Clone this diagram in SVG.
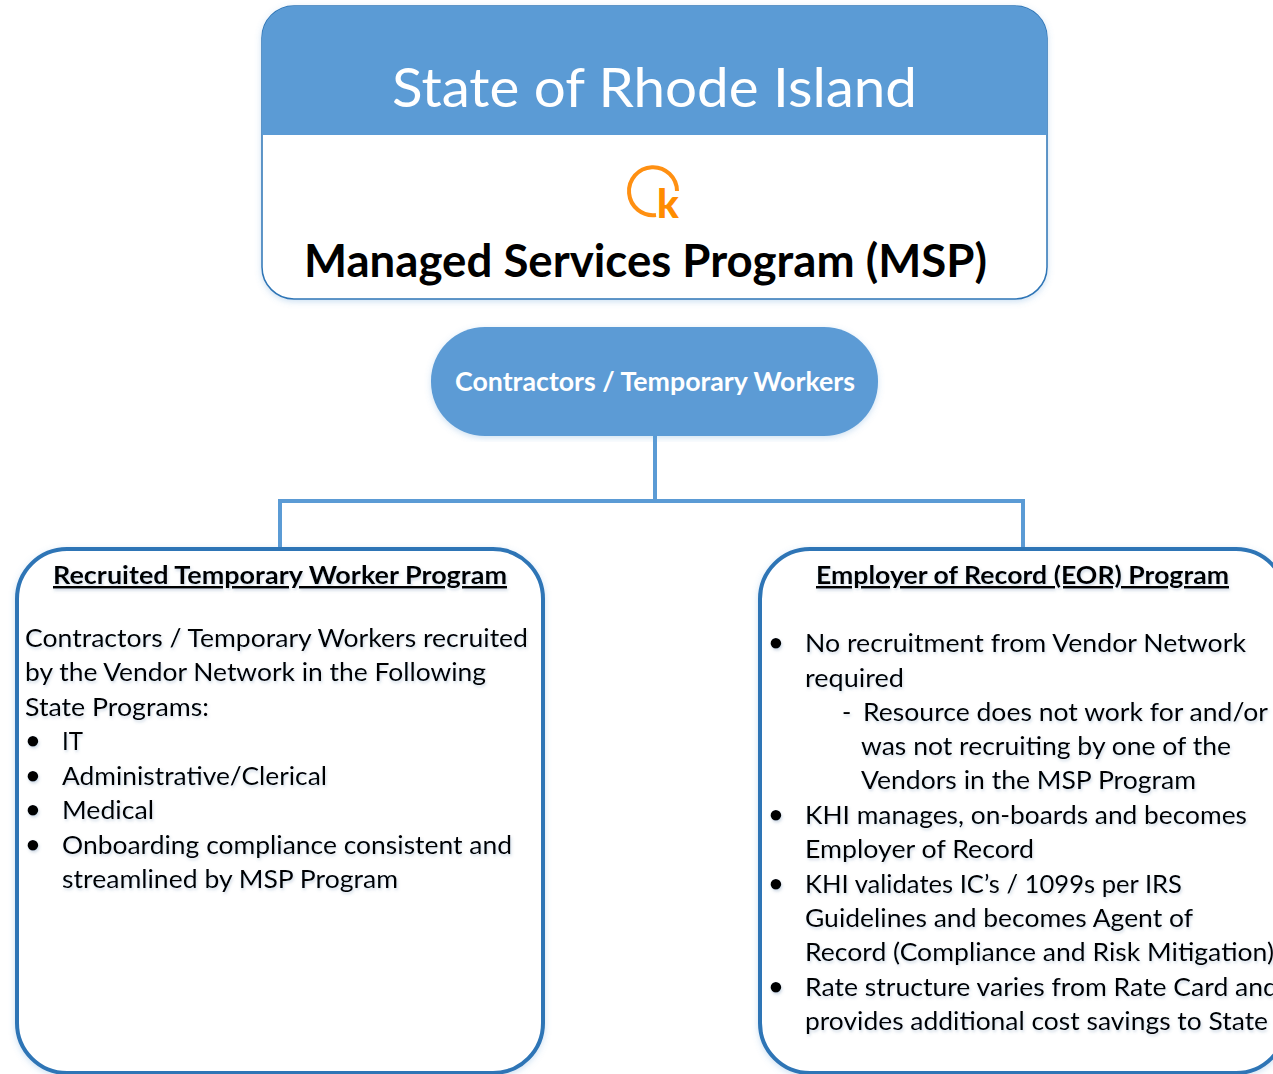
<svg xmlns="http://www.w3.org/2000/svg" width="1273" height="1074" viewBox="0 0 1273 1074">
<style>
text{font-family:Lato,"Open Sans","Liberation Sans",sans-serif;fill:#000}
.b{font-size:25px}
.t{font-size:25px;font-weight:700;text-decoration:underline}
.w{fill:#fff}
.p{fill:#fff;stroke:#2e75b6;stroke-width:4;filter:url(#bs)}
.c{fill:none;stroke:#5b9bd5;stroke-width:4}
.d{font-family:"Liberation Sans",sans-serif;font-size:28px;stroke:#000;stroke-width:3}
.s{filter:url(#ts)}
</style>
<defs>
<filter id="ts" x="-5%" y="-5%" width="110%" height="110%"><feDropShadow dx="1" dy="2" stdDeviation="1.5" flood-color="#5b7fa5" flood-opacity="0.3"/></filter>
<filter id="bs" x="-5%" y="-5%" width="110%" height="110%"><feDropShadow dx="0" dy="2" stdDeviation="3" flood-color="#5b9bd5" flood-opacity="0.3"/></filter>
</defs>
<rect width="1273" height="1074" fill="#fff"/>
<g id="connectors">
<path class="c" d="M655 436V501M280 549V501H1023V549"/>
</g>
<g id="msp">
<rect x="262" y="6" width="785" height="293" rx="32" fill="#fff" stroke="#2e75b6" stroke-width="1.5" filter="url(#bs)"/>
<path d="M262 135V38A32 32 0 0 1 294 6H1015A32 32 0 0 1 1047 38V135Z" fill="#5b9bd5"/>
<text x="392" y="107" class="w" font-size="54" textLength="525" lengthAdjust="spacingAndGlyphs">State of Rhode Island</text>
<path d="M677 191A24 24 0 1 0 656 215" fill="none" stroke="#ff9012" stroke-width="4"/>
<text x="657" y="218" font-size="40" font-weight="900" style="fill:#ff8c00">k</text>
<text x="304" y="277" font-size="45" font-weight="700" textLength="683" lengthAdjust="spacingAndGlyphs">Managed Services Program (MSP)</text>
</g>
<g id="contractors">
<rect x="431" y="327" width="447" height="109" rx="54" fill="#5b9bd5" filter="url(#bs)"/>
<text x="455" y="391" class="w" font-size="26" font-weight="700" textLength="400" lengthAdjust="spacingAndGlyphs">Contractors / Temporary Workers</text>
</g>
<g id="recruited">
<rect class="p" x="17" y="549" width="526" height="524" rx="50"/>
<g class="s">
<text x="53" y="584" class="t" textLength="454" lengthAdjust="spacingAndGlyphs">Recruited Temporary Worker Program</text>
<text x="25" y="647" class="b" textLength="503" lengthAdjust="spacingAndGlyphs">Contractors / Temporary Workers recruited</text>
<text x="25" y="681" class="b" textLength="461" lengthAdjust="spacingAndGlyphs">by the Vendor Network in the Following</text>
<text x="25" y="716" class="b" textLength="184" lengthAdjust="spacingAndGlyphs">State Programs:</text>
<text x="28" y="750" class="d">•</text>
<text x="62" y="750" class="b" textLength="21" lengthAdjust="spacingAndGlyphs">IT</text>
<text x="28" y="785" class="d">•</text>
<text x="62" y="785" class="b" textLength="265" lengthAdjust="spacingAndGlyphs">Administrative/Clerical</text>
<text x="28" y="819" class="d">•</text>
<text x="62" y="819" class="b" textLength="92" lengthAdjust="spacingAndGlyphs">Medical</text>
<text x="28" y="854" class="d">•</text>
<text x="62" y="854" class="b" textLength="450" lengthAdjust="spacingAndGlyphs">Onboarding compliance consistent and</text>
<text x="62" y="888" class="b" textLength="336" lengthAdjust="spacingAndGlyphs">streamlined by MSP Program</text>
</g>
</g>
<g id="eor">
<rect class="p" x="760" y="549" width="526" height="524" rx="50"/>
<g class="s">
<text x="816" y="584" class="t" textLength="413" lengthAdjust="spacingAndGlyphs">Employer of Record (EOR) Program</text>
<text x="771" y="652" class="d">•</text>
<text x="805" y="652" class="b" textLength="441" lengthAdjust="spacingAndGlyphs">No recruitment from Vendor Network</text>
<text x="805" y="687" class="b" textLength="99" lengthAdjust="spacingAndGlyphs">required</text>
<text x="842" y="721" class="b">-</text>
<text x="863" y="721" class="b" textLength="405" lengthAdjust="spacingAndGlyphs">Resource does not work for and/or</text>
<text x="861" y="755" class="b" textLength="370" lengthAdjust="spacingAndGlyphs">was not recruiting by one of the</text>
<text x="861" y="789" class="b" textLength="335" lengthAdjust="spacingAndGlyphs">Vendors in the MSP Program</text>
<text x="771" y="824" class="d">•</text>
<text x="805" y="824" class="b" textLength="442" lengthAdjust="spacingAndGlyphs">KHI manages, on-boards and becomes</text>
<text x="805" y="858" class="b" textLength="229" lengthAdjust="spacingAndGlyphs">Employer of Record</text>
<text x="771" y="893" class="d">•</text>
<text x="805" y="893" class="b" textLength="377" lengthAdjust="spacingAndGlyphs">KHI validates IC’s / 1099s per IRS</text>
<text x="805" y="927" class="b" textLength="388" lengthAdjust="spacingAndGlyphs">Guidelines and becomes Agent of</text>
<text x="805" y="961" class="b" textLength="469" lengthAdjust="spacingAndGlyphs">Record (Compliance and Risk Mitigation)</text>
<text x="771" y="996" class="d">•</text>
<text x="805" y="996" class="b" textLength="473" lengthAdjust="spacingAndGlyphs">Rate structure varies from Rate Card and</text>
<text x="805" y="1030" class="b" textLength="463" lengthAdjust="spacingAndGlyphs">provides additional cost savings to State</text>
</g>
</g>
</svg>
